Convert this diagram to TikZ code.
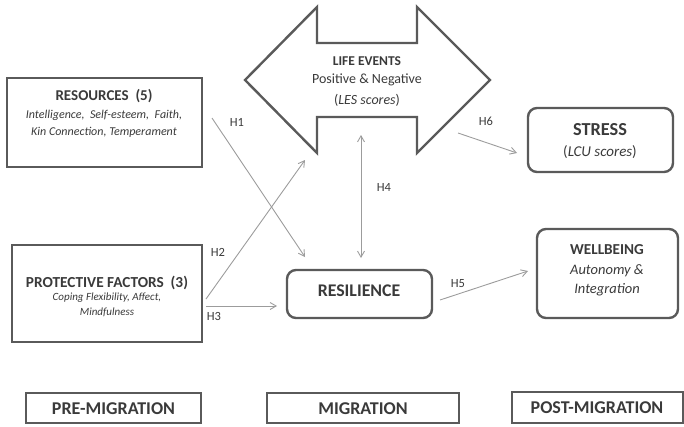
\documentclass[tikz,border=0pt]{standalone}
\usepackage{fontspec}
\setmainfont{Carlito}
\usetikzlibrary{arrows.meta}
\definecolor{boxc}{HTML}{5A5A5A}
\definecolor{txtc}{HTML}{3A3A3A}
\definecolor{arrc}{HTML}{9C9C9C}
\tikzset{
  sqbox/.style={draw=boxc, line width=2.4pt},
  rbox/.style={draw=boxc, line width=2.4pt, rounded corners=9pt},
  lbl/.style={text=txtc, inner sep=0pt, align=center},
  hyp/.style={text=txtc, inner sep=0pt, font=\fontsize{12.5}{14}\selectfont},
  conn/.style={draw=arrc, line width=0.9pt, -{Straight Barb[angle=60:7pt]}},
  conn2/.style={draw=arrc, line width=0.9pt, {Straight Barb[angle=60:7pt]}-{Straight Barb[angle=60:7pt]}},
}
\begin{document}
\begin{tikzpicture}[x=1pt,y=-1pt]
\useasboundingbox (0,0) rectangle (684,426);
% boxes
\draw[sqbox] (7,78) rectangle (202,167);
\draw[sqbox] (12,245) rectangle (202,342);
\draw[rbox] (528,108) rectangle (673,172);
\draw[rbox] (287,270) rectangle (432,318);
\draw[rbox] (537,229) rectangle (678,318);
\draw[sqbox] (26,393) rectangle (201,423);
\draw[sqbox] (267,393) rectangle (459,423);
\draw[sqbox] (512,392) rectangle (683,423);
% life events double arrow
\draw[sqbox, line join=miter] (245,80) -- (317,7) -- (317,43) -- (417,43) -- (417,7) -- (490,80)
  -- (417,153) -- (417,117) -- (317,117) -- (317,153) -- cycle;
% nodes (text)
\node[lbl, font=\fontsize{15}{18}\selectfont\bfseries] (resT) at (104,96) {RESOURCES\ \ (5)};
\node[lbl, font=\fontsize{12}{17}\selectfont\itshape] (resS) at (104,124) {Intelligence,\ \ Self-esteem,\ \ Faith,\\Kin Connection,\ Temperament};
\node[lbl, font=\fontsize{15.3}{18}\selectfont\bfseries] (proT) at (107,283) {PROTECTIVE FACTORS\ \ (3)};
\node[lbl, font=\fontsize{11}{15}\selectfont\itshape] (proS) at (107,304.5) {Coping Flexibility, Affect,\\Mindfulness};
\node[lbl, font=\fontsize{13.5}{15}\selectfont\bfseries] (lifT) at (367,61) {LIFE EVENTS};
\node[lbl, font=\fontsize{14}{15}\selectfont] (lifS) at (367,80) {Positive \& Negative};
\node[lbl, font=\fontsize{14}{15}\selectfont] (lifL) at (367,100) {(\textit{LES scores})};
\node[lbl, font=\fontsize{18.3}{20}\selectfont\bfseries] (strT) at (600,130) {STRESS};
\node[lbl, font=\fontsize{15}{17}\selectfont] (strS) at (600,152) {(\textit{LCU scores})};
\node[lbl, font=\fontsize{17.8}{20}\selectfont\bfseries] (resil) at (359,291) {RESILIENCE};
\node[lbl, font=\fontsize{15.2}{17}\selectfont\bfseries] (welT) at (607,250) {WELLBEING};
\node[lbl, font=\fontsize{14.5}{19.5}\selectfont\itshape] (welS) at (607,280.5) {Autonomy \&\\Integration};
\node[lbl, font=\fontsize{18}{20}\selectfont\bfseries] (pre) at (113.5,409) {PRE-MIGRATION};
\node[lbl, font=\fontsize{18}{20}\selectfont\bfseries] (mig) at (363,409) {MIGRATION};
\node[lbl, font=\fontsize{18}{20}\selectfont\bfseries] (post) at (597,408) {POST-MIGRATION};
% connector end points
\coordinate (h1a) at (212,118);
\coordinate (h1b) at (305,257);
\coordinate (h2a) at (206,299);
\coordinate (h2b) at (305,160);
\coordinate (h3a) at (206,306);
\coordinate (h3b) at (277,306);
\coordinate (h4a) at (361,135);
\coordinate (h4b) at (361,258);
\coordinate (h5a) at (440,300);
\coordinate (h5b) at (528,271);
\coordinate (h6a) at (458,133);
\coordinate (h6b) at (517,153);
\draw[conn] (h1a) -- (h1b);
\draw[conn] (h2a) -- (h2b);
\draw[conn] (h3a) -- (h3b);
\draw[conn2] (h4a) -- (h4b);
\draw[conn] (h5a) -- (h5b);
\draw[conn] (h6a) -- (h6b);
\node[hyp] (H1) at (237,122) {H1};
\node[hyp] (H2) at (218,252) {H2};
\node[hyp] (H3) at (214,316) {H3};
\node[hyp] (H4) at (384,187) {H4};
\node[hyp] (H5) at (458,284) {H5};
\node[hyp] (H6) at (486,121) {H6};
\end{tikzpicture}
\end{document}
